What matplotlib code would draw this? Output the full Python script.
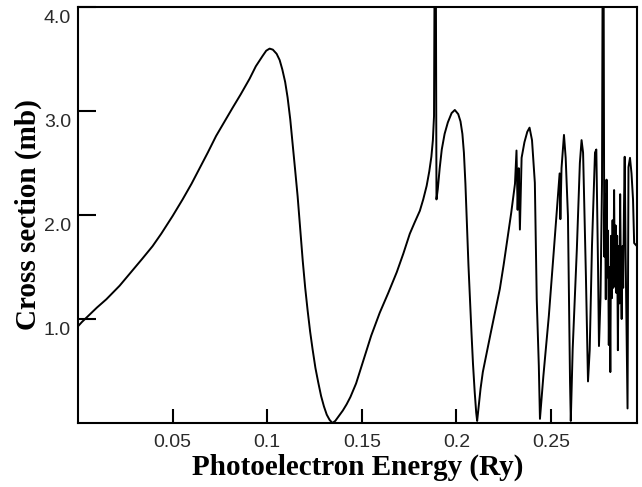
import matplotlib
matplotlib.use("Agg")
import matplotlib.pyplot as plt
from matplotlib.transforms import ScaledTranslation

# photon energy (Ry) vs cross section (mb)
energy = [
    0.0, 0.002, 0.006, 0.010, 0.015, 0.022, 0.028, 0.034, 0.0394, 0.044,
    0.050, 0.0553, 0.060, 0.0643, 0.0686, 0.073, 0.0775, 0.0817, 0.086, 0.0907,
    0.094, 0.0976, 0.0995, 0.1013, 0.103, 0.1050, 0.1066, 0.108, 0.1095, 0.1108,
    0.1122, 0.1135, 0.1148, 0.1161, 0.1175, 0.1188, 0.1201, 0.1214, 0.1227, 0.1240,
    0.1255, 0.1270, 0.1285, 0.1300, 0.1315, 0.1330, 0.1345, 0.1360, 0.1380, 0.1400,
    0.1420, 0.1440, 0.1470, 0.1505, 0.1550, 0.1595, 0.1640, 0.1685, 0.1720, 0.1754,
    0.1780, 0.1807, 0.1825, 0.1843, 0.1857, 0.1868, 0.1876, 0.1882, 0.1886, 0.1891,
    0.1895, 0.1902, 0.1912, 0.1923, 0.1938, 0.1955, 0.1975, 0.1992, 0.2010, 0.2022,
    0.2032, 0.2040, 0.2048, 0.2056, 0.2064, 0.2072, 0.2080, 0.2088, 0.2097, 0.2105,
    0.2110, 0.2118, 0.2128, 0.2140, 0.2180, 0.2214, 0.2230, 0.2250, 0.2270, 0.2290,
    0.2310, 0.2318, 0.2324, 0.2330, 0.2336, 0.2345, 0.2360, 0.2375, 0.2387, 0.2400,
    0.2415, 0.2425, 0.2436, 0.2442, 0.2460, 0.2489, 0.2515, 0.2542, 0.2546, 0.2550,
    0.2556, 0.2569, 0.2578, 0.2590, 0.2601, 0.2605, 0.2615, 0.2637, 0.2653, 0.2662,
    0.2670, 0.2685, 0.2696, 0.2705, 0.2717, 0.2733, 0.2740, 0.2749, 0.2754, 0.2762,
    0.2770, 0.2774, 0.2778, 0.2782, 0.2786, 0.2790, 0.2794, 0.2798, 0.2802, 0.2806,
    0.2810, 0.2814, 0.2818, 0.2822, 0.2826, 0.2830, 0.2834, 0.2838, 0.2842, 0.2846,
    0.2850, 0.2854, 0.2858, 0.2862, 0.2866, 0.2870, 0.2874, 0.2878, 0.2882, 0.2886,
    0.2890, 0.2895, 0.2900, 0.2905, 0.2910, 0.2918, 0.2926, 0.2934, 0.2940, 0.2955,
]
cross_section = [
    0.93, 0.97, 1.04, 1.11, 1.19, 1.32, 1.45, 1.58, 1.70, 1.82,
    1.99, 2.15, 2.30, 2.45, 2.60, 2.76, 2.90, 3.03, 3.16, 3.31,
    3.43, 3.53, 3.58, 3.60, 3.59, 3.55, 3.49, 3.40, 3.28, 3.13,
    2.92, 2.68, 2.43, 2.18, 1.86, 1.56, 1.30, 1.08, 0.88, 0.71,
    0.53, 0.39, 0.26, 0.16, 0.08, 0.03, 0.00, 0.02, 0.07, 0.12,
    0.18, 0.25, 0.38, 0.58, 0.84, 1.06, 1.25, 1.45, 1.63, 1.82,
    1.93, 2.04, 2.15, 2.28, 2.42, 2.56, 2.72, 2.95, 4.80, 4.80,
    2.15, 2.25, 2.45, 2.63, 2.78, 2.89, 2.98, 3.01, 2.97, 2.90,
    2.78, 2.60, 2.30, 1.90, 1.52, 1.19, 0.87, 0.57, 0.30, 0.10,
    0.02, 0.16, 0.33, 0.49, 0.85, 1.15, 1.29, 1.52, 1.77, 2.02,
    2.30, 2.62, 2.05, 2.45, 1.86, 2.55, 2.70, 2.80, 2.84, 2.72,
    2.31, 1.19, 0.55, 0.04, 0.45, 1.03, 1.65, 2.31, 2.40, 1.96,
    2.45, 2.77, 2.55, 1.99, 0.40, 0.02, 0.71, 1.67, 2.50, 2.72,
    2.60, 1.41, 0.40, 0.70, 1.70, 2.60, 2.63, 1.51, 0.74, 1.20,
    2.30, 4.80, 4.80, 1.60, 2.20, 1.19, 2.34, 1.40, 1.85, 0.75,
    1.50, 0.49, 1.80, 1.20, 1.95, 1.30, 2.24, 1.32, 1.90, 1.25,
    1.80, 0.70, 1.70, 1.15, 2.20, 1.40, 1.00, 1.70, 1.30, 2.05,
    2.56, 1.60, 0.90, 0.14, 2.46, 2.55, 2.40, 2.15, 1.73, 1.70,
]

xticks = [0.05, 0.1, 0.15, 0.2, 0.25]
xtick_labels = ["0.05", "0.1", "0.15", "0.2", "0.25"]
yticks = [1.0, 2.0, 3.0, 4.0]
ytick_labels = ["1.0", "2.0", "3.0", "4.0"]

fig = plt.figure(figsize=(6.42, 4.87), dpi=100)
ax = fig.add_axes([0.1215, 0.1314, 0.8707, 0.8542])

ax.plot(energy, cross_section, color="black", linewidth=1.4)

ax.set_xlim(0, 0.2955)
ax.set_ylim(0, 4.0)

ax.set_xticks(xticks)
ax.set_xticklabels(xtick_labels)
ax.set_yticks(yticks)
ax.set_yticklabels(ytick_labels)

for lab in ax.get_xticklabels() + ax.get_yticklabels():
    lab.set_fontfamily("Liberation Sans")
    lab.set_fontsize(14)
    lab.set_color("#2a2a2a")

ax.tick_params(axis="x", direction="in", length=10, width=1.5, pad=8)
ax.tick_params(axis="y", direction="in", length=13, width=1.5, pad=5)

# y labels sit a little below their ticks in the original
shift = ScaledTranslation(0, -7 / 72, fig.dpi_scale_trans)
for lab in ax.get_yticklabels():
    lab.set_transform(lab.get_transform() + shift)

for sp in ax.spines.values():
    sp.set_linewidth(1.5)

label_font = {"family": "Liberation Serif", "weight": "bold", "size": 21}
ax.set_xlabel("Photoelectron Energy (Ry)", fontdict=label_font, labelpad=2)
ax.set_ylabel("Cross section (mb)", fontdict=label_font, labelpad=1)

fig.savefig("out.png", dpi=100)
